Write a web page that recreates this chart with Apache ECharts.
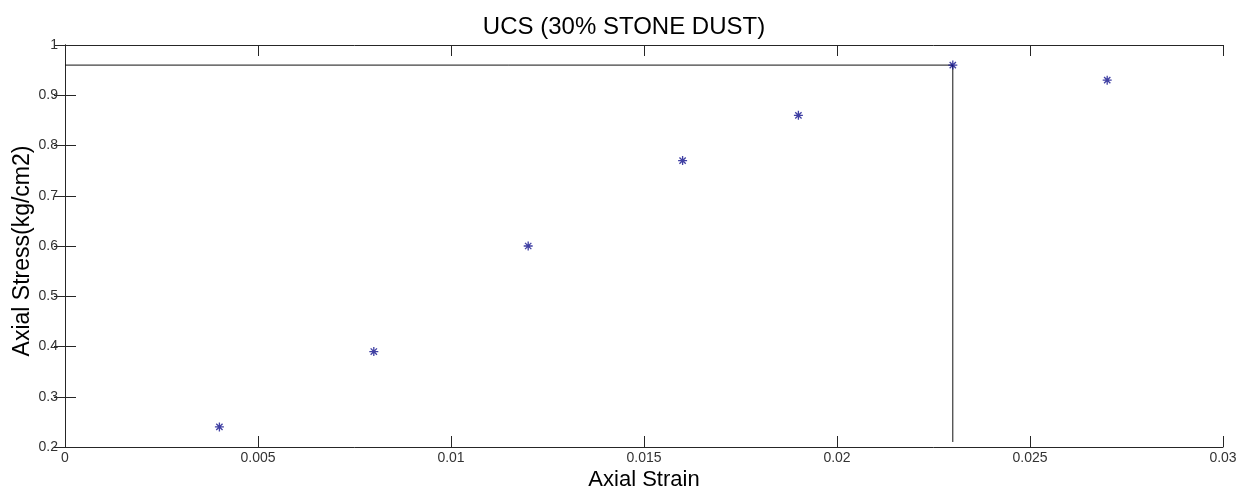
<!DOCTYPE html>
<html>
<head>
<meta charset="utf-8">
<script src="https://cdn.jsdelivr.net/npm/echarts@6/dist/echarts.min.js"></script>
<style>
  html, body { margin: 0; padding: 0; background: #fff; }
  #chart { width: 1248px; height: 493px; }
</style>
</head>
<body>
<div id="chart"></div>
<script>
// Measured axial strain / axial stress pairs
const strain = [0.004, 0.008, 0.012, 0.016, 0.019, 0.023, 0.027];
const stress = [0.24, 0.39, 0.60, 0.77, 0.86, 0.96, 0.93];

// Peak (UCS) marker: horizontal guide to the y-axis and vertical drop to the x-axis
const peakStrain = 0.023;
const peakStress = 0.96;
const dropBottom = 0.21;

const chartTitle = 'UCS (30% STONE DUST)';
const xName = 'Axial Strain';
const yName = 'Axial Stress(kg/cm2)';

const points = strain.map((s, i) => [s, stress[i]]);
const guide = [[0, peakStress], [peakStrain, peakStress], [peakStrain, dropBottom]];

const font = 'Liberation Sans, Arial, sans-serif';
const axisCol = '#262626';
const starPath = 'path://M0,-10L0,10M-10,0L10,0M-7,-7L7,7M-7,7L7,-7';

const chart = echarts.init(document.getElementById('chart'));
const boxAxis = {
  axisLine: { show: true, lineStyle: { color: axisCol, width: 1 } },
  axisTick: { show: true, inside: true, length: 11, lineStyle: { color: axisCol } },
  splitLine: { show: false }
};
chart.setOption({
  animation: false,
  backgroundColor: '#fff',
  title: {
    text: chartTitle,
    left: 'center',
    top: 10,
    textStyle: { fontFamily: font, fontSize: 24, fontWeight: 'normal', color: '#000' }
  },
  grid: { left: 65, right: 25, top: 45, bottom: 46, outerBoundsMode: 'none', containLabel: false },
  xAxis: [
    Object.assign({
      type: 'value', min: 0, max: 0.03, interval: 0.005,
      name: xName, nameLocation: 'middle', nameGap: 22, nameMoveOverlap: false,
      nameTextStyle: { fontFamily: font, fontSize: 22, color: '#000', verticalAlign: 'top' },
      axisLabel: { fontFamily: font, fontSize: 14, color: '#333', margin: 4 }
    }, boxAxis),
    Object.assign({
      type: 'value', position: 'top', min: 0, max: 0.03, interval: 0.005,
      axisLabel: { show: false }
    }, boxAxis)
  ],
  yAxis: [
    Object.assign({
      type: 'value', min: 0.2, max: 1, interval: 0.1,
      name: yName, nameLocation: 'middle', nameGap: 31, nameMoveOverlap: false,
      nameTextStyle: { fontFamily: font, fontSize: 23, color: '#000', padding: [0, 10, 0, 0] },
      axisLabel: { fontFamily: font, fontSize: 14, color: '#333', margin: 7 }
    }, boxAxis),
    Object.assign({
      type: 'value', position: 'right', min: 0.2, max: 1, interval: 0.1,
      axisLabel: { show: false }
    }, boxAxis)
  ],
  series: [
    {
      type: 'line',
      data: guide,
      showSymbol: false,
      symbol: 'none',
      lineStyle: { color: '#111', width: 1 },
      z: 2
    },
    {
      type: 'scatter',
      data: points,
      symbol: starPath,
      symbolSize: 9,
      itemStyle: { color: 'none', borderColor: '#10108c', borderWidth: 1.3 },
      z: 3
    }
  ]
});
</script>
</body>
</html>
